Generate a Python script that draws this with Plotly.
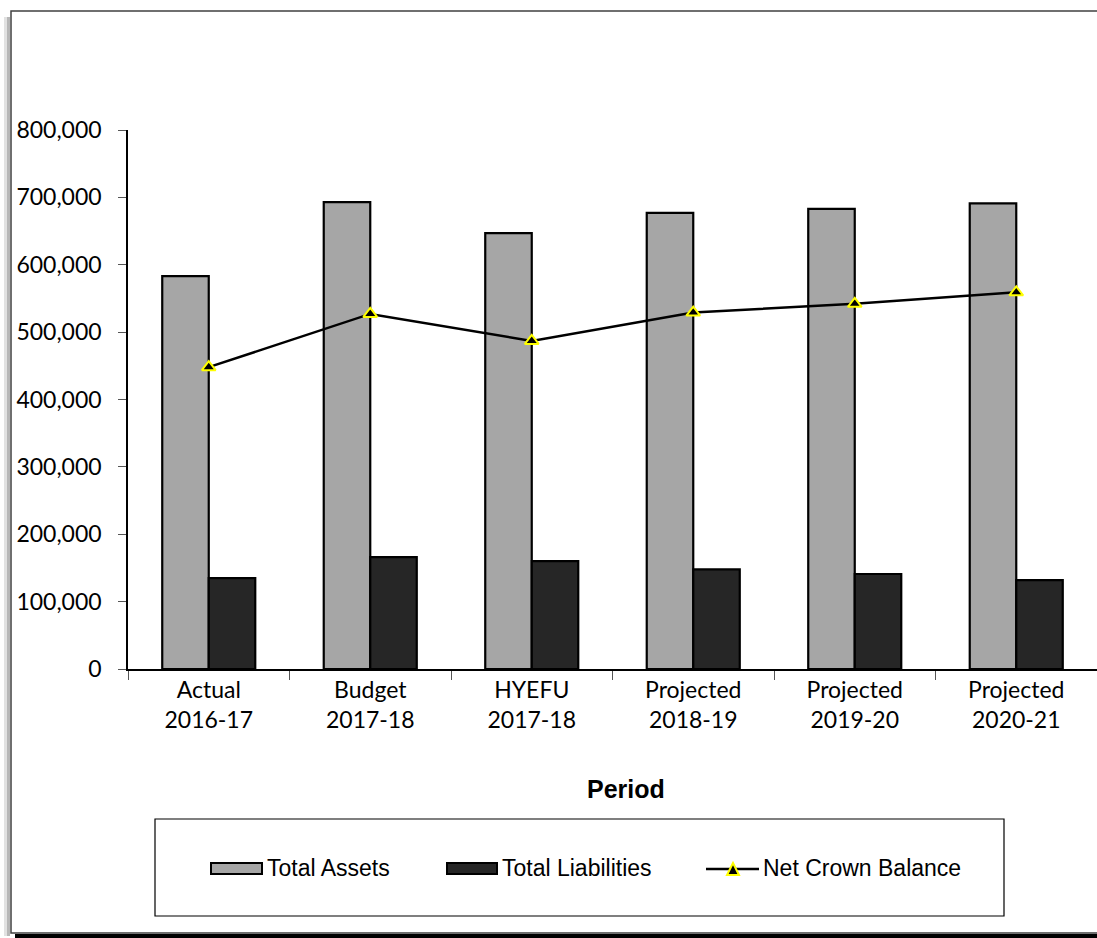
import plotly.graph_objects as go

# Periods shown on the category axis
periods = ["Actual<br>2016-17", "Budget<br>2017-18", "HYEFU<br>2017-18",
           "Projected<br>2018-19", "Projected<br>2019-20", "Projected<br>2020-21"]

# Balance sheet series ($000)
total_assets = [583000, 693000, 647000, 677000, 683000, 691000]
total_liabilities = [135000, 166000, 160000, 148000, 141000, 132000]
net_crown_balance = [448000, 527000, 487000, 529000, 542000, 559000]

y_ticks = [0, 100000, 200000, 300000, 400000, 500000, 600000, 700000, 800000]

W, H = 1097, 938
L, R, T, B = 128, 0, 130, 269
PW, PH = W - L - R, H - T - B


def px(x):
    """Pixel column -> paper x."""
    return (x - L) / PW


def py(y):
    """Pixel row -> paper y."""
    return (H - B - y) / PH


fig = go.Figure()
fig.add_trace(go.Bar(
    x=periods, y=total_assets, name="Total Assets",
    marker=dict(color="#a6a6a6", line=dict(color="#000000", width=2.2)),
))
fig.add_trace(go.Bar(
    x=periods, y=total_liabilities, name="Total Liabilities",
    marker=dict(color="#262626", line=dict(color="#000000", width=2.2)),
))
fig.add_trace(go.Scatter(
    x=periods, y=net_crown_balance, name="Net Crown Balance",
    mode="lines+markers",
    line=dict(color="#000000", width=2.5),
    marker=dict(symbol="triangle-up", size=12, color="#000000",
                line=dict(color="#ffff00", width=2)),
))

tick_font = dict(family="Lato, Open Sans, sans-serif", size=23, color="#000000")

shapes = []
# chart frame with its shadow
shapes.append(dict(type="rect", xref="paper", yref="paper",
                   x0=px(4), x1=px(7), y0=py(936), y1=py(17),
                   fillcolor="#e2e2e2", line=dict(width=0), layer="below"))
shapes.append(dict(type="rect", xref="paper", yref="paper",
                   x0=px(7), x1=px(10), y0=py(936), y1=py(17),
                   fillcolor="#b8b8b8", line=dict(width=0), layer="below"))
shapes.append(dict(type="rect", xref="paper", yref="paper",
                   x0=px(15), x1=px(1100), y0=py(939), y1=py(934),
                   fillcolor="#000000", line=dict(width=0), layer="below"))
shapes.append(dict(type="rect", xref="paper", yref="paper",
                   x0=px(11), x1=px(1110), y0=py(933), y1=py(11),
                   fillcolor="rgba(0,0,0,0)", line=dict(color="#404040", width=1.5),
                   layer="below"))
# legend box
shapes.append(dict(type="rect", xref="paper", yref="paper",
                   x0=px(155), x1=px(1004), y0=py(916), y1=py(819),
                   fillcolor="#ffffff", line=dict(color="#000000", width=1.2),
                   layer="below"))
# legend swatches
shapes.append(dict(type="rect", xref="paper", yref="paper",
                   x0=px(211), x1=px(262), y0=py(874), y1=py(863),
                   fillcolor="#a6a6a6", line=dict(color="#000000", width=2)))
shapes.append(dict(type="rect", xref="paper", yref="paper",
                   x0=px(447), x1=px(497), y0=py(874), y1=py(863),
                   fillcolor="#262626", line=dict(color="#000000", width=2)))
shapes.append(dict(type="line", xref="paper", yref="paper",
                   x0=px(706), x1=px(759), y0=py(869), y1=py(869),
                   line=dict(color="#000000", width=2.5)))
tri = "M {x0},{y0} L {x1},{y0} L {xm},{ym} Z".format(
    x0=px(727), x1=px(739), y0=py(875), xm=px(733), ym=py(863))
shapes.append(dict(type="path", xref="paper", yref="paper", path=tri,
                   fillcolor="#000000", line=dict(color="#ffff00", width=2)))

legend_font = dict(family="Liberation Sans, Arial, sans-serif", size=23, color="#000000")
annotations = [
    dict(text="Total Assets", x=px(265), y=py(868), xref="paper", yref="paper",
         xanchor="left", yanchor="middle", showarrow=False, font=legend_font),
    dict(text="Total Liabilities", x=px(500), y=py(868), xref="paper", yref="paper",
         xanchor="left", yanchor="middle", showarrow=False, font=legend_font),
    dict(text="Net Crown Balance", x=px(761), y=py(868), xref="paper", yref="paper",
         xanchor="left", yanchor="middle", showarrow=False, font=legend_font),
    dict(text="<b>Period</b>", x=px(626), y=py(789), xref="paper", yref="paper",
         xanchor="center", yanchor="middle", showarrow=False,
         font=dict(family="Liberation Sans, Arial, sans-serif", size=25, color="#000000")),
]

fig.update_layout(
    width=W, height=H,
    margin=dict(l=L, r=R, t=T, b=B, pad=0),
    paper_bgcolor="#ffffff", plot_bgcolor="#ffffff",
    barmode="group", bargap=0.424, bargroupgap=0,
    showlegend=False,
    shapes=shapes, annotations=annotations,
    xaxis=dict(
        showline=True, linecolor="#000000", linewidth=1.5,
        ticks="outside", tickson="boundaries", ticklen=9, tickcolor="#555555",
        tickfont=tick_font, showgrid=False, fixedrange=True,
    ),
    yaxis=dict(
        range=[0, 800000], tickvals=y_ticks, tickformat=",",
        showline=True, linecolor="#000000", linewidth=1.5,
        ticks="outside", ticklen=8, tickcolor="#555555",
        tickfont=tick_font, showgrid=False, zeroline=False,
        ticklabelstandoff=12, fixedrange=True,
    ),
)

fig.write_html("out.html")
